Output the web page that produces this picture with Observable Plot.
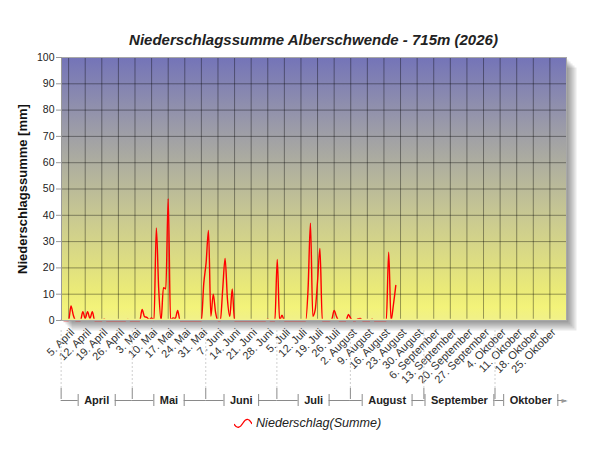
<!DOCTYPE html>
<html><head><meta charset="utf-8">
<script src="https://cdn.jsdelivr.net/npm/d3@7"></script>
<script src="https://cdn.jsdelivr.net/npm/@observablehq/plot@0.6"></script>
<style>
body{margin:0;background:#fff;width:600px;height:450px;overflow:hidden;font-family:"Liberation Sans",Arial,sans-serif;}
#title{height:50px;box-sizing:border-box;padding-top:32px;padding-left:61px;width:566px;text-align:center;font:italic bold 15px "Liberation Sans",Arial,sans-serif;color:#222;line-height:16px;white-space:nowrap;}
#chart svg{display:block;}
#legend{height:26px;display:flex;align-items:center;padding-left:234px;font:italic 12.6px "Liberation Sans",Arial,sans-serif;color:#222;}
#legend svg{margin-right:4px;}
</style></head><body>
<div id="title">Niederschlagssumme Alberschwende - 715m (2026)</div>
<div id="chart"></div>
<div id="legend"><svg width="18" height="10"><path d="M0,6 C3,11 6,10 9,5 S15,0 18,6" fill="none" stroke="#ff0000" stroke-width="1.3"/></svg><span>Niederschlag(Summe)</span></div>
<script>
// daily precipitation sums [mm], first value = 2026-04-02
const startDate = "2026-04-02";
const endDate = "2026-11-01";
const precipitation = [
  0.5, 0, 0, 0, 5.5, 2, 0, 0, 0, 3.3,
  0.8, 3.3, 0.8, 3.3, 0, 0, 0, 0, 0.5, 0,
  0, 0, 0, 0, 0, 0, 0, 0, 0.4, 0,
  0, 0, 0, 0, 4.2, 1.5, 1.2, 0.3, 1, 0,
  35.2, 12, 0, 12.5, 12, 46.3, 0, 1, 0.8, 3.8,
  0, 0, 0, 0, 0, 0, 0, 0, 0, 0,
  14, 22, 34.2, 1.6, 10, 3, 0, 0, 12, 23.6,
  8, 1.6, 12, 0, 0, 0, 0, 0, 0, 0,
  0, 0, 0, 0, 0, 0, 0, 0.5, 0, 0,
  0, 23.2, 0, 2, 0, 0, 0, 0, 0, 0,
  0, 0, 0, 0, 12, 37, 1.6, 4, 15, 27.4,
  0, 0, 0, 0, 0.5, 3.8, 1.5, 0, 0, 0,
  0, 2.3, 0.8, 0, 0, 0.6, 0.8, 0, 0, 0,
  0, 0.5, 0, 0, 0, 0, 0, 0, 26, 0,
  6, 13.3
];
const monthNames = ["April", "Mai", "Juni", "Juli", "August", "September", "Oktober"];
const monthStarts = ["2026-04-01", "2026-05-01", "2026-06-01", "2026-07-01", "2026-08-01", "2026-09-01", "2026-10-01"];
const tickDates = [
  "2026-04-05", "2026-04-12", "2026-04-19", "2026-04-26",
  "2026-05-03", "2026-05-10", "2026-05-17", "2026-05-24", "2026-05-31",
  "2026-06-07", "2026-06-14", "2026-06-21", "2026-06-28",
  "2026-07-05", "2026-07-12", "2026-07-19", "2026-07-26",
  "2026-08-02", "2026-08-09", "2026-08-16", "2026-08-23", "2026-08-30",
  "2026-09-06", "2026-09-13", "2026-09-20", "2026-09-27",
  "2026-10-04", "2026-10-11", "2026-10-18", "2026-10-25"
];
const yTicks = [0, 10, 20, 30, 40, 50, 60, 70, 80, 90, 100];

const start = new Date(startDate), end = new Date(endDate);
const data = precipitation.map((v, i) => ({date: d3.utcDay.offset(start, i), value: v}));
const ticks = tickDates.map(s => new Date(s));
const fmt = d => `${d.getUTCDate()}. ${monthNames[d.getUTCMonth() - 3]}`;

const W = 600, H = 360, ML = 61, MR = 34, MT = 7, MB = 90;
const xs = d3.scaleUtc([start, end], [ML, W - MR]);

// month bracket geometry
const ctx = document.createElement("canvas").getContext("2d");
ctx.font = "bold 11px 'Liberation Sans'";
const bpx = monthStarts.map(s => xs(new Date(s)) + 2).concat([xs(end)]);
const segs = [], tks = [], labels = [];
monthNames.forEach((name, m) => {
  const l = bpx[m], r = bpx[m + 1], c = (l + r) / 2;
  const hw = ctx.measureText(name).width / 2 + 6;
  labels.push({x: xs.invert(c), name});
  tks.push(xs.invert(c - hw), xs.invert(c + hw));
  if (c - hw > l) segs.push({a: xs.invert(l), b: xs.invert(c - hw)});
  if (r > c + hw) segs.push({a: xs.invert(c + hw), b: xs.invert(r)});
});
const bounds = monthStarts.map(s => new Date(s));

const shadow = [2, 4, 6, 8, 10].map(k => Plot.frame({fill: "#000", fillOpacity: 0.09, dx: k, dy: k}));

const chart = Plot.plot({
  width: W, height: H,
  marginLeft: ML, marginRight: MR, marginTop: MT, marginBottom: MB,
  style: {fontFamily: "'Liberation Sans', Arial, sans-serif", background: "transparent"},
  x: {type: "utc", domain: [start, end]},
  y: {domain: [0, 100]},
  marks: [
    ...shadow,
    Plot.frame({fill: "url(#bgGrad)"}),
    Plot.gridY(yTicks, {stroke: "#000", strokeOpacity: 0.38}),
    Plot.gridX(ticks, {stroke: "#000", strokeOpacity: 0.38}),
    Plot.line(data, {x: "date", y: "value", stroke: "#ff0000", strokeWidth: 1.4, curve: "monotone-x"}),
    Plot.ruleY([0], {stroke: "#f2f28c", strokeWidth: 2.4, dy: -0.6}),
    Plot.frame({stroke: "#a8a8a8"}),
    Plot.axisY(yTicks, {tickSize: 5, tickPadding: 2, stroke: "#999", fill: "#222", fontSize: 10.5, label: null}),
    Plot.ruleX([start], {stroke: "#999"}),
    Plot.text(["Niederschlagssumme [mm]"], {frameAnchor: "left", dx: -39, rotate: -90, textAnchor: "middle", lineAnchor: "middle", fontWeight: "bold", fontSize: 13, fill: "#111"}),
    Plot.axisX(ticks, {tickFormat: fmt, tickRotate: -45, tickSize: 0, tickPadding: 10, dx: 4, fontSize: 11, fill: "#333", label: null}),
    // month separators below axis
    Plot.ruleX(bounds, {x: d => d, y1: 0, y2: 0, insetTop: 10, insetBottom: -68, dx: 2, stroke: "#cfcfcf", strokeDasharray: "2,2"}),
    Plot.ruleX(bounds, {x: d => d, y1: 0, y2: 0, insetTop: 68, insetBottom: -79, dx: 2, stroke: "#8a8a8a"}),
    Plot.ruleY(segs, {y: 0, x1: "a", x2: "b", dy: 80, stroke: "#8a8a8a"}),
    Plot.ruleX(tks, {x: d => d, y1: 0, y2: 0, insetTop: 74, insetBottom: -86, stroke: "#8a8a8a"}),
    Plot.text(labels, {x: "x", y: 0, dy: 80, text: "name", fontWeight: "bold", fontSize: 11, fill: "#222", lineAnchor: "middle"}),
    Plot.text([end], {x: d => d, y: 0, dy: 80, dx: -2, text: () => "\u25BA", fill: "#999", fontSize: 8, fontFamily: "DejaVu Sans", lineAnchor: "middle"})
  ]
});

const defs = d3.select(chart).insert("defs", ":first-child");
const g = defs.append("linearGradient").attr("id", "bgGrad").attr("x1", 0).attr("y1", 0).attr("x2", 0).attr("y2", 1);
[[0, "#7474b8"], [0.3, "#a0a0a6"], [0.6, "#c8c892"], [0.88, "#eaea78"], [0.95, "#f3f37a"], [1, "#f0f08a"]]
  .forEach(([o, c]) => g.append("stop").attr("offset", o).attr("stop-color", c));

document.getElementById("chart").appendChild(chart);
</script>
</body></html>
